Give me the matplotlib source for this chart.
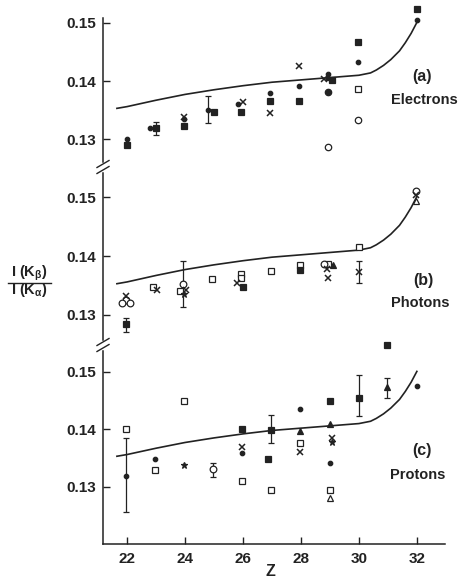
import matplotlib
matplotlib.use("Agg")
import matplotlib.pyplot as plt
from matplotlib.lines import Line2D

# theory curve (same in all three panels)
theory_z = [21.65, 22, 23, 24, 25, 26, 27, 28, 29, 30, 30.4, 30.6, 30.85,
            31.1, 31.4, 31.6, 31.8, 32.0]
theory_v = [0.1353, 0.1356, 0.1367, 0.1377, 0.1385, 0.1392, 0.1398, 0.1402,
            0.1406, 0.1410, 0.1414, 0.1419, 0.1427, 0.1437, 0.1452, 0.1466,
            0.1482, 0.1501]

x_ticks = [22, 24, 26, 28, 30, 32]
y_ticks = [0.13, 0.14, 0.15]

# (a) electrons
a_dot_z = [22, 22.8, 23.95, 24.81, 25.83, 26.92, 27.92, 28.93, 29.97, 32.0]
a_dot_v = [0.1301, 0.1320, 0.1334, 0.1350, 0.1360, 0.1380, 0.1391, 0.1412, 0.1433, 0.1505]
a_bigdot_z = [28.95]
a_bigdot_v = [0.1382]
a_sq_z = [22, 23.0, 23.95, 25.0, 25.93, 26.92, 27.92, 29.07, 29.97, 32.0]
a_sq_v = [0.1290, 0.1319, 0.1322, 0.1347, 0.1346, 0.1366, 0.1366, 0.1402, 0.1467, 0.1524]
a_x_z = [23.95, 26.0, 26.92, 27.92, 28.8]
a_x_v = [0.1338, 0.1364, 0.1345, 0.1426, 0.1403]
a_tri_z = [28.95]
a_tri_v = [0.1407]
a_osq_z = [29.97]
a_osq_v = [0.1386]
a_oci_z = [28.93, 29.97]
a_oci_v = [0.1286, 0.1333]
a_err_z = [23.0, 24.81]
a_err_v = [0.1319, 0.1350]
a_err_lo = [0.1307, 0.1327]
a_err_hi = [0.1330, 0.1375]

# (b) photons
b_oci_z = [21.97, 21.84, 22.1, 23.93, 28.8, 31.98]
b_oci_v = [0.1326, 0.1320, 0.1320, 0.1352, 0.1386, 0.1511]
b_x_z = [21.97, 23.03, 24.05, 25.79, 28.9, 28.95, 29.99, 31.98]
b_x_v = [0.1332, 0.1342, 0.1342, 0.1354, 0.1378, 0.1363, 0.1373, 0.1504]
b_osq_z = [22.88, 23.81, 24.93, 25.93, 25.93, 26.97, 27.95, 28.95, 29.99]
b_osq_v = [0.1347, 0.1341, 0.1361, 0.1369, 0.1362, 0.1375, 0.1385, 0.1386, 0.1415]
b_sq_z = [21.97, 26.0, 27.95]
b_sq_v = [0.1284, 0.1347, 0.1377]
b_star_z = [23.95]
b_star_v = [0.1335]
b_tri_z = [29.12]
b_tri_v = [0.1384]
b_otri_z = [31.98]
b_otri_v = [0.1494]
b_err_z = [21.97, 23.93, 29.99]
b_err_v = [0.1284, 0.1352, 0.1373]
b_err_lo = [0.1271, 0.1314, 0.1355]
b_err_hi = [0.1294, 0.1392, 0.1392]

# (c) protons
c_osq_z = [21.97, 22.98, 23.95, 25.96, 26.97, 27.97, 28.99]
c_osq_v = [0.1400, 0.1329, 0.1450, 0.1309, 0.1295, 0.1376, 0.1294]
c_dot_z = [21.97, 22.98, 25.96, 27.97, 28.99, 32.02]
c_dot_v = [0.1319, 0.1349, 0.1358, 0.1435, 0.1342, 0.1476]
c_sq_z = [25.96, 26.97, 26.87, 28.99, 30.01, 30.97]
c_sq_v = [0.1400, 0.1399, 0.1349, 0.1450, 0.1455, 0.1547]
c_x_z = [25.96, 27.97, 29.06]
c_x_v = [0.1370, 0.1360, 0.1384]
c_star_z = [23.95, 29.06]
c_star_v = [0.1338, 0.1377]
c_oci_z = [24.95]
c_oci_v = [0.1331]
c_tri_z = [27.97, 28.99, 30.97]
c_tri_v = [0.1397, 0.1409, 0.1473]
c_otri_z = [28.99]
c_otri_v = [0.1280]
c_err_z = [21.97, 24.95, 26.97, 30.01, 30.97]
c_err_v = [0.1319, 0.1331, 0.1399, 0.1455, 0.1473]
c_err_lo = [0.1255, 0.1316, 0.1376, 0.1423, 0.1455]
c_err_hi = [0.1384, 0.1342, 0.1425, 0.1494, 0.1490]

INK = "#222222"
W, H = 458, 579

plt.rcParams["font.family"] = ["Liberation Sans", "DejaVu Sans"]
plt.rcParams["font.weight"] = "bold"
plt.rcParams["mathtext.fontset"] = "custom"
plt.rcParams["mathtext.rm"] = "Liberation Sans:bold"
plt.rcParams["mathtext.it"] = "Liberation Sans:bold"
plt.rcParams["mathtext.bf"] = "Liberation Sans:bold"

fig = plt.figure(figsize=(W / 100, H / 100), dpi=100)


def px_box(top, bottom, left=103, right=445):
    return [left / W, 1 - bottom / H, (right - left) / W, (bottom - top) / H]


ax_a = fig.add_axes(px_box(18, 167))
ax_b = fig.add_axes(px_box(167, 345))
ax_c = fig.add_axes(px_box(345, 544))

ax_a.set_ylim(0.1252, 0.15086)
ax_b.set_ylim(0.1249, 0.1551)
ax_c.set_ylim(0.120, 0.1547)


def pts(ax, z, v, marker, size, filled=True, mew=0.9):
    ax.plot(z, v, linestyle="none", marker=marker, markersize=size,
            color=INK, markerfacecolor=INK if filled else "white",
            markeredgewidth=mew, clip_on=False, zorder=4)


def errs(ax, z, v, lo, hi):
    lower = [c - l for c, l in zip(v, lo)]
    upper = [h - c for c, h in zip(v, hi)]
    ax.errorbar(z, v, yerr=[lower, upper], fmt="none", ecolor=INK,
                elinewidth=0.9, capsize=2.5, capthick=0.9, zorder=3)


for ax in (ax_a, ax_b, ax_c):
    ax.plot(theory_z, theory_v, color=INK, linewidth=1.2, zorder=2)
    ax.set_xlim(21.17, 32.97)
    ax.set_yticks(y_ticks)
    ax.set_yticklabels(["0.13", "0.14", "0.15"])
    ax.set_xticks(x_ticks)
    for side in ("top", "right"):
        ax.spines[side].set_visible(False)
    ax.spines["left"].set_color(INK)
    ax.spines["left"].set_linewidth(1.1)
    ax.tick_params(axis="y", direction="in", length=5, width=1, color=INK,
                   labelsize=11, labelcolor=INK, pad=5)
    ax.tick_params(axis="x", direction="in", length=5, width=1, color=INK,
                   labelsize=11, labelcolor=INK, pad=6)
    ax.patch.set_alpha(0)

for ax in (ax_a, ax_b):
    ax.spines["bottom"].set_visible(False)
    ax.tick_params(axis="x", bottom=False, labelbottom=False)

ax_c.spines["bottom"].set_color(INK)
ax_c.spines["bottom"].set_linewidth(1.1)

# panel (a)
pts(ax_a, a_dot_z, a_dot_v, "o", 3.2)
pts(ax_a, a_bigdot_z, a_bigdot_v, "o", 4.6)
pts(ax_a, a_sq_z, a_sq_v, "s", 4.0)
pts(ax_a, a_x_z, a_x_v, "x", 4.0, mew=1.1)
pts(ax_a, a_tri_z, a_tri_v, "^", 4.2)
pts(ax_a, a_osq_z, a_osq_v, "s", 4.2, filled=False)
pts(ax_a, a_oci_z, a_oci_v, "o", 4.6, filled=False)
errs(ax_a, a_err_z, a_err_v, a_err_lo, a_err_hi)

# panel (b)
pts(ax_b, b_osq_z, b_osq_v, "s", 4.2, filled=False)
pts(ax_b, b_oci_z, b_oci_v, "o", 4.8, filled=False)
pts(ax_b, b_x_z, b_x_v, "x", 4.0, mew=1.1)
pts(ax_b, b_sq_z, b_sq_v, "s", 4.0)
pts(ax_b, b_star_z, b_star_v, "*", 5.0)
pts(ax_b, b_tri_z, b_tri_v, "^", 4.2)
pts(ax_b, b_otri_z, b_otri_v, "^", 4.4, filled=False)
errs(ax_b, b_err_z, b_err_v, b_err_lo, b_err_hi)

# panel (c)
pts(ax_c, c_osq_z, c_osq_v, "s", 4.2, filled=False)
pts(ax_c, c_dot_z, c_dot_v, "o", 3.2)
pts(ax_c, c_sq_z, c_sq_v, "s", 4.4)
pts(ax_c, c_x_z, c_x_v, "x", 4.0, mew=1.1)
pts(ax_c, c_star_z, c_star_v, "*", 5.0)
pts(ax_c, c_oci_z, c_oci_v, "o", 4.8, filled=False)
pts(ax_c, c_tri_z, c_tri_v, "^", 4.4)
pts(ax_c, c_otri_z, c_otri_v, "^", 4.2, filled=False)
errs(ax_c, c_err_z, c_err_v, c_err_lo, c_err_hi)

# panel labels
fig.text(422 / W, 1 - 77 / H, "(a)", ha="center", va="center", fontsize=11.5, color=INK)
fig.text(424 / W, 1 - 100 / H, "Electrons", ha="center", va="center", fontsize=10.5, color=INK)
fig.text(423 / W, 1 - 280 / H, "(b)", ha="center", va="center", fontsize=11.5, color=INK)
fig.text(420 / W, 1 - 303 / H, "Photons", ha="center", va="center", fontsize=10.5, color=INK)
fig.text(422 / W, 1 - 450 / H, "(c)", ha="center", va="center", fontsize=11.5, color=INK)
fig.text(418 / W, 1 - 475 / H, "Protons", ha="center", va="center", fontsize=10.5, color=INK)

# y label as a fraction
fig.text(29 / W, 1 - 273 / H, r"I (K$_{\beta}$)", ha="center", va="center",
         fontsize=10.5, color=INK)
fig.text(29 / W, 1 - 290 / H, r"I (K$_{\alpha}$)", ha="center", va="center",
         fontsize=10.5, color=INK)
fig.add_artist(Line2D([8 / W, 51 / W], [1 - 283 / H, 1 - 283 / H],
                      color=INK, linewidth=1.0, transform=fig.transFigure))

fig.text(270 / W, 1 - 572 / H, "Z", ha="center", va="center", fontsize=11.5, color=INK)

# axis break marks on the left spine
for yb in (167, 345):
    fig.add_artist(Line2D([103 / W, 103 / W], [1 - (yb - 3) / H, 1 - (yb + 3) / H],
                          color="white", linewidth=2.5, transform=fig.transFigure))
    for off in (-3, 3):
        fig.add_artist(Line2D([97 / W, 109 / W],
                              [1 - (yb + off + 3.5) / H, 1 - (yb + off - 3.5) / H],
                              color=INK, linewidth=1.0, transform=fig.transFigure))

fig.savefig("out.png", dpi=100)
